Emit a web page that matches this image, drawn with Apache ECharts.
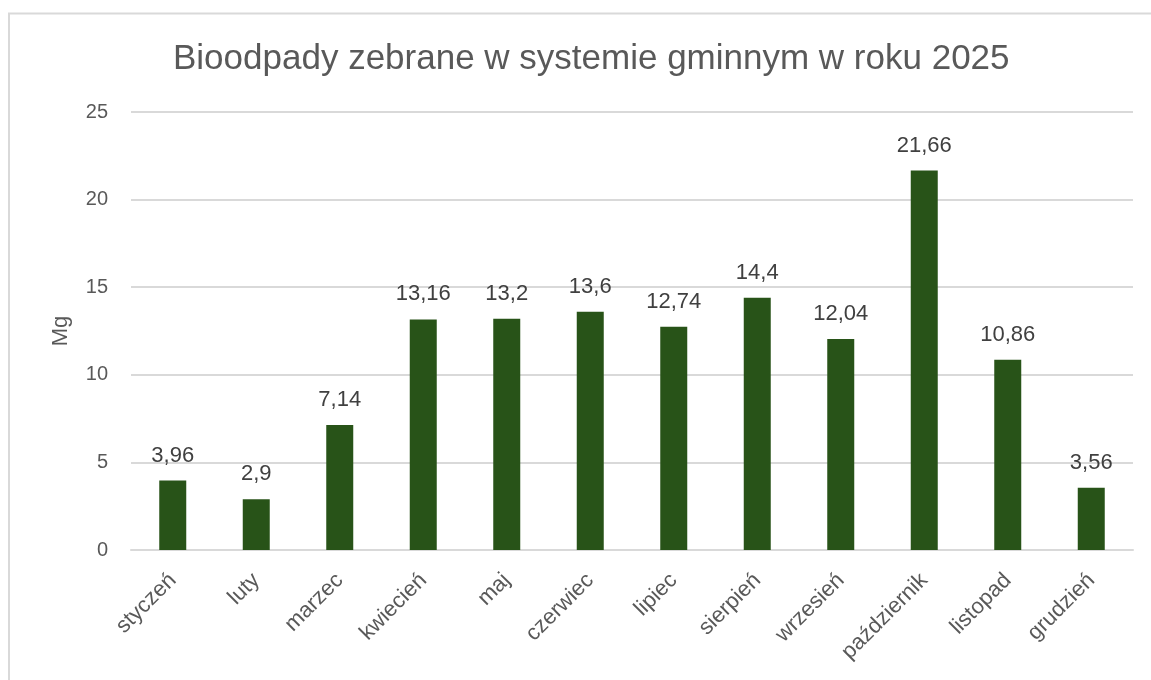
<!DOCTYPE html>
<html lang="pl">
<head>
    <meta charset="UTF-8">
    <title>Bioodpady 2025</title>
    <script src="https://cdn.jsdelivr.net/npm/echarts@6/dist/echarts.min.js"></script>
    <style>
        html, body { margin: 0; padding: 0; background: #fff; }
        #chart { width: 1151px; height: 680px; }
    </style>
</head>
<body>
    <div id="chart"></div>
    <script>
        // dane z wykresu
        const months = ['styczeń', 'luty', 'marzec', 'kwiecień', 'maj', 'czerwiec',
            'lipiec', 'sierpień', 'wrzesień', 'październik', 'listopad', 'grudzień'];
        const values = [3.96, 2.9, 7.14, 13.16, 13.2, 13.6, 12.74, 14.4, 12.04, 21.66, 10.86, 3.56];
        const yTicks = [0, 5, 10, 15, 20, 25];

        const font = 'Liberation Sans, Arial, sans-serif';
        const chart = echarts.init(document.getElementById('chart'));

        chart.setOption({
            animation: false,
            title: {
                text: 'Bioodpady zebrane w systemie gminnym w roku 2025',
                left: 168,
                top: 37,
                textStyle: { fontFamily: font, fontSize: 35, fontWeight: 'normal', color: '#595959' }
            },
            graphic: [{
                type: 'rect',
                shape: { x: 9, y: 13.5, width: 1180, height: 700 },
                style: { fill: 'none', stroke: '#d9d9d9', lineWidth: 2 },
                silent: true
            }],
            grid: { left: 131, right: 18, top: 112, bottom: 130, outerBoundsMode: 'none' },
            xAxis: {
                type: 'category',
                data: months,
                axisTick: { show: false },
                axisLine: { lineStyle: { color: '#d9d9d9', width: 2 } },
                axisLabel: { rotate: 45, margin: 27, fontFamily: font, fontSize: 22, color: '#595959' }
            },
            yAxis: {
                type: 'value',
                min: yTicks[0],
                max: yTicks[yTicks.length - 1],
                interval: 5,
                name: 'Mg',
                nameLocation: 'middle',
                nameGap: 59,
                nameMoveOverlap: false,
                nameTextStyle: { fontFamily: font, fontSize: 22, color: '#595959' },
                axisLabel: { margin: 23, fontFamily: font, fontSize: 20, color: '#595959' },
                splitLine: { lineStyle: { color: '#d9d9d9', width: 2 } }
            },
            series: [{
                type: 'bar',
                data: values,
                barWidth: 27,
                itemStyle: { color: '#285318' },
                label: {
                    show: true,
                    position: 'top',
                    distance: 14,
                    fontFamily: font,
                    fontSize: 22,
                    color: '#404040',
                    formatter: p => String(p.value).replace('.', ',')
                }
            }]
        });
    </script>
</body>
</html>
